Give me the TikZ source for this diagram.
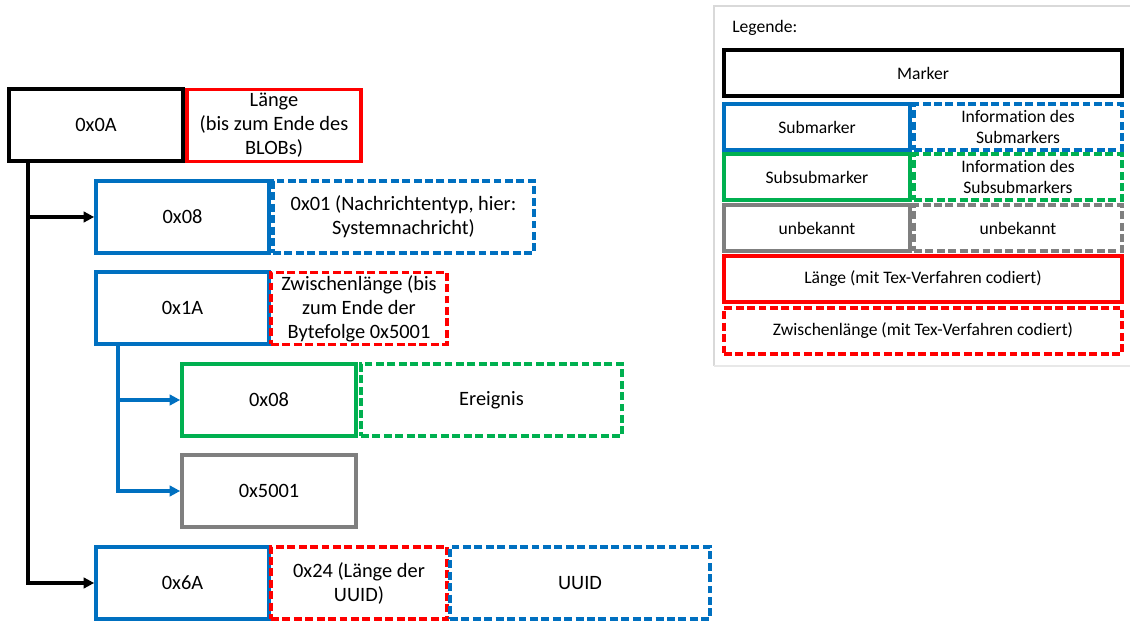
\documentclass[tikz,border=0pt]{standalone}
\usepackage{fontspec}
\setmainfont{Carlito}[Ligatures=NoCommon]
\usetikzlibrary{arrows.meta}
\definecolor{cblue}{HTML}{0070C0}
\definecolor{cred}{HTML}{FF0000}
\definecolor{cgreen}{HTML}{00B050}
\definecolor{cgray}{HTML}{7F7F7F}
\definecolor{cframe}{HTML}{D9D9D9}
\tikzset{
  box/.style={draw, rectangle, line width=2.1pt, inner sep=0pt, align=center,
    font=\fontsize{11.6}{13.7}\selectfont, minimum height=1.44cm, minimum width=3.48cm},
  lbox/.style={draw, rectangle, line width=1.8pt, inner sep=0pt, align=center,
    font=\fontsize{10}{12.3}\selectfont, minimum height=0.92cm},
  dsh/.style={dash pattern=on 4.5pt off 2pt},
  conn/.style={line width=1.9pt, -{Triangle[length=6pt,width=6pt]}},
}
\begin{document}
\begin{tikzpicture}[x=0.02cm,y=-0.02cm]
\useasboundingbox (0,0) rectangle (1130,621);

% structure tree
\node[box] (m0) at (96,125) {0x0A};
\node[box, cred] (len) at (274,125.5) {\color{black}Länge\\\color{black}(bis zum Ende des\\\color{black}BLOBs)};
\node[box, cblue, minimum width=3.46cm] (s1) at (182.5,217) {\color{black}0x08};
\node[box, cblue, dsh, minimum width=5.22cm] (i1) at (403.5,217) {\color{black}0x01 (Nachrichtentyp, hier:\\\color{black}Systemnachricht)};
\node[box, cblue, minimum width=3.46cm] (s2) at (182.5,308) {\color{black}0x1A};
\node[box, cred, dsh, minimum width=3.52cm] (z1) at (359,308.5) {\color{black}Zwischenlänge (bis\\\color{black}zum Ende der\\\color{black}Bytefolge 0x5001};
\node[box, cgreen] (ss1) at (269,400) {\color{black}0x08};
\node[box, cgreen, dsh, minimum width=5.22cm] (ev) at (491.5,400) {\color{black}Ereignis};
\node[box, cgray] (un1) at (269,491) {\color{black}0x5001};
\node[box, cblue, minimum width=3.46cm] (s3) at (182.5,583) {\color{black}0x6A};
\node[box, cred, dsh, minimum width=3.52cm] (z2) at (359,583) {\color{black}0x24 (Länge der\\\color{black}UUID)};
\node[box, cblue, dsh, minimum width=5.20cm] (uu) at (580,583) {\color{black}UUID};

% connectors
\coordinate (t0) at (28,161);
\draw[conn] (t0) |- (s3.west);
\draw[conn] (t0 |- s1.west) -- (s1.west);
\coordinate (t1) at (118,344);
\draw[conn, cblue] (t1) |- (un1.west);
\draw[conn, cblue] (t1 |- ss1.west) -- (ss1.west);

% legend
\draw[cframe, line width=1.4pt] (714,366) -- (714,6) -- (1140,6);
\draw[cframe!60, line width=1.4pt] (714,366) -- (1140,366);
\node[anchor=west, font=\fontsize{10}{12.3}\selectfont, inner sep=0pt] (lg) at (732,28) {Legende:};
\node[lbox, minimum width=7.96cm] (lm) at (923,73) {Marker};
\node[lbox, cblue, minimum width=3.72cm] (ls) at (817,127) {\color{black}Submarker};
\node[lbox, cblue, dsh, minimum width=4.16cm] (lsi) at (1018,127) {\color{black}Information des\\\color{black}Submarkers};
\node[lbox, cgreen, minimum width=3.72cm] (lss) at (817,177) {\color{black}Subsubmarker};
\node[lbox, cgreen, dsh, minimum width=4.16cm] (lssi) at (1018,177) {\color{black}Information des\\\color{black}Subsubmarkers};
\node[lbox, cgray, minimum width=3.72cm] (lu) at (817,228) {\color{black}unbekannt};
\node[lbox, cgray, dsh, minimum width=4.16cm] (lui) at (1018,228) {\color{black}unbekannt};
\node[lbox, cred, minimum width=7.96cm] (ll) at (923,279) {\color{black}Länge (mit Tex-Verfahren codiert)};
\node[lbox, cred, dsh, minimum width=7.96cm] (lz) at (923,331) {\color{black}Zwischenlänge (mit Tex-Verfahren codiert)};
\end{tikzpicture}
\end{document}
